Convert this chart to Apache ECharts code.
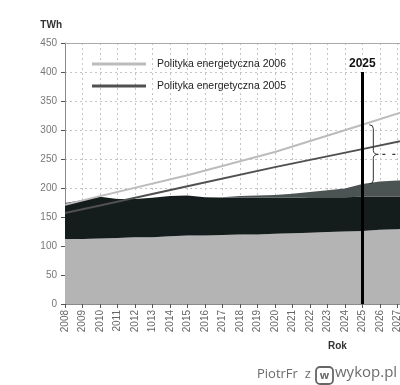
<!DOCTYPE html>
<html>
<head>
<meta charset="utf-8">
<script src="https://cdn.jsdelivr.net/npm/echarts@6/dist/echarts.min.js"></script>
<style>
html,body{margin:0;padding:0;background:#fff;}
#c{width:400px;height:385px;}
</style>
</head>
<body>
<div id="c"></div>
<script>
const years = ['2008','2009','2010','2011','2012','2013','2014','2015','2016','2017','2018','2019','2020','2021','2022','2023','2024','2025','2026','2027','2028'];
const tickLabels = ['2008','2009','2010','2011','2012','1013','2014','2015','2016','2017','2018','2019','2020','2021','2022','2023','2024','2025','2026','2027','2028'];
const yTicks = [0,50,100,150,200,250,300,350,400,450];
// stacked supply bands (TWh)
const baseBand = [112,112,113,114,115,115,117,118,118,119,120,120,121,122,123,124,125,126,128,129,130];
const blackBand = [62,67,72,67,66,68,69,69,66,64,63,63,62,61,61,60,59,59,57,56,55];
const greyBand = [0,0,0,0,0,0,0,0,0,1,3,4,5,7,9,12,15,22,26,28,28];
// demand forecasts
const policy2006 = [171,null,186,null,null,null,null,222,null,null,null,null,262,null,null,null,null,309,null,null,338];
const policy2005 = [157,null,170,null,null,null,null,203,null,null,null,null,236,null,null,null,null,267,null,null,286];
const seriesNames = ['Polityka energetyczna 2006','Polityka energetyczna 2005'];
const markYear = '2025';
const braceTop = 309, braceBottom = 207;

const chart = echarts.init(document.getElementById('c'), null, {renderer:'canvas'});
const font = 'Arial, "Liberation Sans", sans-serif';
const option = {
  animation:false,
  backgroundColor:'#fff',
  grid:{left:65, top:43, bottom:81, width:349.8, containLabel:false, outerBoundsMode:'none'},
  legend:{
    data:seriesNames, orient:'vertical', left:87, top:53.5,
    itemWidth:54, itemHeight:3, itemGap:11, icon:'rect',
    textStyle:{fontFamily:font, fontSize:10.5, color:'#222', padding:[0,0,0,6]},
    selectedMode:false
  },
  xAxis:[{
    type:'category', data:years, boundaryGap:false,
    axisLine:{lineStyle:{color:'#8a8a8a', width:1}},
    axisTick:{show:true, length:4, alignWithLabel:true, lineStyle:{color:'#555'}},
    axisLabel:{rotate:90, fontFamily:font, fontSize:10, color:'#666', margin:6, interval:0,
      formatter:(v,i)=>tickLabels[i]},
    splitLine:{show:true, lineStyle:{color:'#c4c4c4', type:[2,3], width:1}}
  },{
    type:'category', data:years, boundaryGap:false, position:'top',
    axisLine:{lineStyle:{color:'#aaa'}}, axisTick:{show:false}, axisLabel:{show:false}, splitLine:{show:false}
  }],
  yAxis:{
    type:'value', min:0, max:450, interval:50,
    name:'TWh', nameLocation:'end', nameGap:13,
    nameTextStyle:{fontFamily:font, fontSize:10, fontWeight:'bold', color:'#333', align:'right', padding:[0,3,0,0]},
    axisLine:{show:true, lineStyle:{color:'#8a8a8a'}},
    axisTick:{show:true, length:4, lineStyle:{color:'#555'}},
    axisLabel:{fontFamily:font, fontSize:10, color:'#777', margin:8,
      formatter:(v)=> yTicks.indexOf(v)>=0 ? String(v) : ''},
    splitLine:{show:true, lineStyle:{color:'#c4c4c4', type:[2,3], width:1}}
  },
  series:[
    {name:'base', type:'line', stack:'s', data:baseBand, symbol:'none', lineStyle:{width:0},
      areaStyle:{color:'#b4b4b4', opacity:1}, itemStyle:{color:'#b4b4b4'}, z:2,
      markLine:{silent:true, symbol:'none', animation:false,
        lineStyle:{color:'#000', width:3, type:'solid'},
        label:{show:true, position:'start', formatter:markYear, fontFamily:font, fontSize:12, fontWeight:'bold', color:'#111', distance:2},
        data:[[{coord:[markYear,400]},{coord:[markYear,0]}]]}
    },
    {name:'black', type:'line', stack:'s', data:blackBand, symbol:'none', lineStyle:{width:0},
      areaStyle:{color:'#151c1c', opacity:1}, itemStyle:{color:'#151c1c'}, z:2},
    {name:'grey', type:'line', stack:'s', data:greyBand, symbol:'none', lineStyle:{width:0},
      areaStyle:{color:'#4b5353', opacity:1}, itemStyle:{color:'#4b5353'}, z:2},
    {name:seriesNames[0], type:'line', data:policy2006, connectNulls:true, symbol:'none',
      lineStyle:{color:'#bcbcbc', width:2}, itemStyle:{color:'#bcbcbc'}, z:3},
    {name:seriesNames[1], type:'line', data:policy2005, connectNulls:true, symbol:'none',
      lineStyle:{color:'#505050', width:2}, itemStyle:{color:'#505050'}, z:3}
  ]
};
chart.setOption(option);

// annotations: brace at the 2025 line, axis title and watermark
const pTop = chart.convertToPixel({xAxisIndex:0, yAxisIndex:0}, [markYear, braceTop]);
const pBot = chart.convertToPixel({xAxisIndex:0, yAxisIndex:0}, [markYear, braceBottom]);
const bx = pTop[0] + 11, yt = pTop[1], yb = pBot[1], ym = (yt+yb)/2;
const xAxisPix = chart.convertToPixel({yAxisIndex:0}, 0);
const bs = {fill:null, stroke:'#333', lineWidth:1};
const q = (x1,y1,cx,cy,x2,y2)=>({type:'bezierCurve', shape:{x1:x1,y1:y1,cpx1:cx,cpy1:cy,x2:x2,y2:y2}, style:bs, z:10});
const l = (x1,y1,x2,y2)=>({type:'line', shape:{x1:x1,y1:y1,x2:x2,y2:y2}, style:bs, z:10});
chart.setOption({graphic:[
  q(bx-4,yt, bx,yt, bx,yt+4),
  l(bx,yt+4, bx,ym-4),
  q(bx,ym-4, bx,ym, bx+5,ym),
  q(bx+5,ym, bx,ym, bx,ym+4),
  l(bx,ym+4, bx,yb-4),
  q(bx,yb-4, bx,yb, bx-4,yb),
  {type:'line', shape:{x1:bx+9, y1:ym, x2:400, y2:ym}, style:{stroke:'#333', lineWidth:1.2, lineDash:[3,7]}, z:10},
  {type:'text', left:328, top:xAxisPix+37, style:{text:'Rok', font:'bold 10px Arial, "Liberation Sans", sans-serif', fill:'#333'}},
  {type:'text', left:257, top:368, style:{text:'PiotrFr  z', font:'13px "Open Sans", "Noto Sans", sans-serif', fill:'#6b6b6b'}},
  {type:'rect', shape:{x:316, y:367, width:17, height:17, r:4}, style:{fill:null, stroke:'#666', lineWidth:1.8}},
  {type:'text', x:324.5, y:375.5, style:{text:'w', font:'bold 11px "Open Sans", sans-serif', fill:'#666', align:'center', verticalAlign:'middle'}},
  {type:'text', left:335, top:365, style:{text:'wykop.pl', font:'15px "Open Sans", "Noto Sans", sans-serif', fill:'#6b6b6b'}}
]});
</script>
</body>
</html>
